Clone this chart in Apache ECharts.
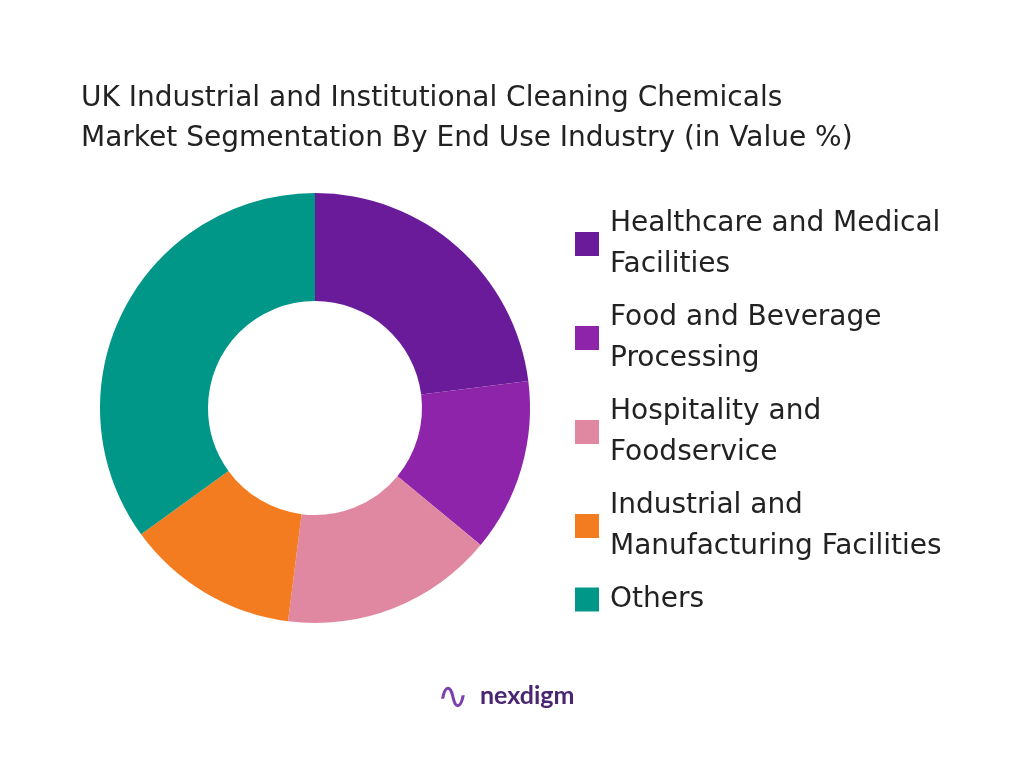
<!DOCTYPE html>
<html>
<head>
<meta charset="utf-8">
<script src="https://cdn.jsdelivr.net/npm/echarts@6/dist/echarts.min.js"></script>
<style>html,body{margin:0;padding:0;background:#fff}</style>
</head>
<body>
<div id="chart" style="width:1024px;height:768px;"></div>
<script>
var categories = ['Healthcare and Medical\nFacilities', 'Food and Beverage\nProcessing', 'Hospitality and\nFoodservice', 'Industrial and\nManufacturing Facilities', 'Others'];
var values = [23, 13, 16, 13, 35];
var colors = ['#6a1b9a', '#8e24aa', '#e088a2', '#f47c20', '#009688'];

var chart = echarts.init(document.getElementById('chart'));
chart.setOption({
  backgroundColor: '#fff',
  title: {
    text: 'UK Industrial and Institutional Cleaning Chemicals\nMarket Segmentation By End Use Industry (in Value %)',
    left: 76, top: 74,
    textStyle: { fontFamily: 'DejaVu Sans', fontWeight: 'normal', fontSize: 28, lineHeight: 40, color: '#222' }
  },
  legend: {
    orient: 'vertical', left: 570, top: 198,
    icon: 'rect', itemWidth: 24, itemHeight: 24, itemGap: 12,
    selectedMode: false,
    textStyle: { fontFamily: 'DejaVu Sans', fontSize: 28, lineHeight: 41, color: '#222', padding: [0, 0, 0, 6] }
  },
  series: [{
    type: 'pie',
    center: [315, 408],
    radius: [107, 215],
    startAngle: 90,
    clockwise: true,
    label: { show: false },
    labelLine: { show: false },
    itemStyle: { borderWidth: 0 },
    emphasis: { disabled: true },
    data: categories.map(function (c, i) {
      return { name: c, value: values[i], itemStyle: { color: colors[i] } };
    })
  }],
  graphic: [
    { type: 'text', left: 437, top: 680, style: { text: '∿', fontSize: 38, fill: '#7b3fb0', fontFamily: 'DejaVu Sans' } },
    { type: 'text', left: 480, top: 683, style: { text: 'nexdigm', fontSize: 25, fontWeight: 'bold', fill: '#4a2570', fontFamily: 'Lato' } }
  ]
});
</script>
</body>
</html>
